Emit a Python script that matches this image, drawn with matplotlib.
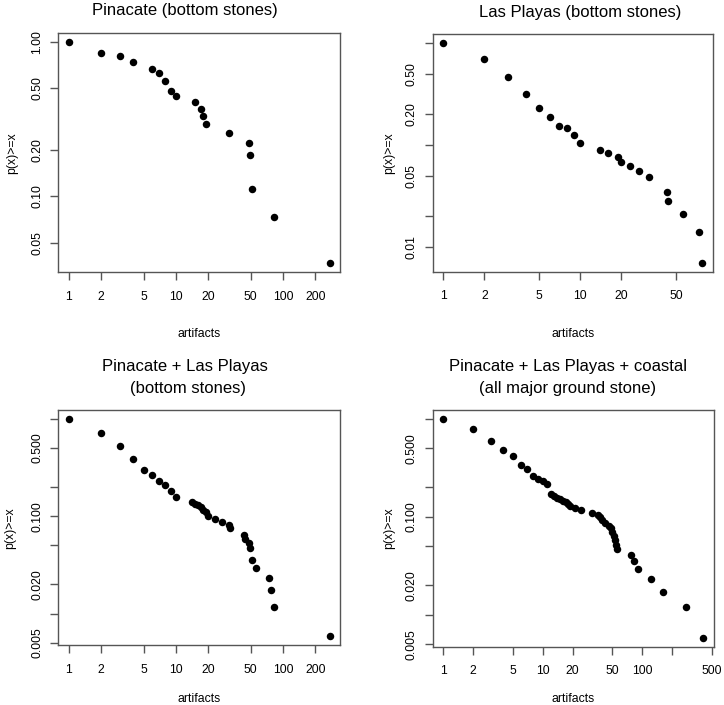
import numpy as np
import matplotlib
matplotlib.use("Agg")
import matplotlib.pyplot as plt

plt.rcParams['font.family'] = ['Liberation Sans', 'DejaVu Sans']

# Pinacate (bottom stones)
pin_x = [1, 2, 3, 4, 6, 7, 8, 9, 10, 15, 17, 18, 19, 31, 48, 49, 51, 83, 272]
pin_y = [1.0, 0.852, 0.815, 0.741, 0.667, 0.630, 0.556, 0.481, 0.444, 0.407,
         0.370, 0.333, 0.296, 0.259, 0.222, 0.185, 0.111, 0.074, 0.037]

# Las Playas (bottom stones)
lp_x = [1, 2, 3, 4, 5, 6, 7, 8, 9, 10, 14, 16, 19, 20, 23, 27, 32, 43, 44, 56, 74, 78]
lp_y = [1.0, 0.694, 0.465, 0.319, 0.229, 0.1875, 0.153, 0.146, 0.125, 0.104,
        0.090, 0.083, 0.076, 0.069, 0.0625, 0.056, 0.049, 0.035, 0.028, 0.021,
        0.014, 0.007]

# Pinacate + Las Playas
both_x = [1, 2, 3, 4, 5, 6, 7, 8, 9, 10, 14, 15, 16, 17, 18, 19, 20, 23, 27,
          31, 32, 43, 44, 48, 49, 51, 56, 74, 78, 83, 272]
both_y = [1.0, 0.719, 0.520, 0.386, 0.298, 0.263, 0.228, 0.211, 0.181, 0.158,
          0.140, 0.1345, 0.129, 0.123, 0.117, 0.111, 0.0994, 0.0936, 0.0877,
          0.0819, 0.076, 0.0643, 0.0585, 0.0526, 0.0468, 0.0351, 0.0292,
          0.0234, 0.0175, 0.0117, 0.00585]

# Pinacate + Las Playas + coastal
all_x = [1, 2, 3, 4, 5, 6, 7, 8, 9, 10, 11, 12, 13, 14, 15, 16, 17, 18, 19, 21,
         24, 31.5, 35.6, 37.4, 39, 42.5, 46.3, 48.5, 50, 51.5, 53.2, 54.5, 56,
         77, 83, 91, 121, 163, 278, 410]
all_y = [1.0, 0.785, 0.587, 0.475, 0.413, 0.334, 0.306, 0.26, 0.244, 0.231,
         0.214, 0.169, 0.163, 0.157, 0.151, 0.145, 0.140, 0.134, 0.128, 0.122,
         0.116, 0.110, 0.105, 0.099, 0.093, 0.087, 0.081, 0.076, 0.070, 0.064,
         0.058, 0.052, 0.047, 0.041, 0.035, 0.029, 0.023, 0.017, 0.012, 0.0058]

xt_a = [1, 2, 5, 10, 20, 50, 100, 200]
xt_b = [1, 2, 5, 10, 20, 50]
xt_c = [1, 2, 5, 10, 20, 50, 100, 200, 500]
xl_c = ['1', '2', '5', '10', '20', '50', '100', '', '500']

yt_a = [1.0, 0.5, 0.2, 0.1, 0.05]
yl_a = ['1.00', '0.50', '0.20', '0.10', '0.05']
yt_b = [1.0, 0.5, 0.2, 0.1, 0.05, 0.02, 0.01]
yl_b = ['', '0.50', '0.20', '', '0.05', '', '0.01']
yt_c = [1.0, 0.5, 0.2, 0.1, 0.05, 0.02, 0.01, 0.005]
yl_c = ['', '0.500', '', '0.100', '', '0.020', '', '0.005']

W, H = 724, 705
fig = plt.figure(figsize=(W / 100, H / 100), dpi=100)
edge = '#555555'


def panel(box, xs, ys, xt, xl, yt, yl):
    l, r, t, b = box
    ax = fig.add_axes([l / W, 1 - b / H, (r - l) / W, (b - t) / H])
    ax.plot(xs, ys, 'o', color='black', ms=5.4, mew=0)
    ax.set_xscale('log')
    ax.set_yscale('log')
    # R style 4% padding in log space
    lx = np.log10([min(xs), max(xs)])
    ly = np.log10([min(ys), max(ys)])
    px = (lx[1] - lx[0]) * 0.04
    py = (ly[1] - ly[0]) * 0.04
    ax.set_xlim(10 ** (lx[0] - px), 10 ** (lx[1] + px))
    ax.set_ylim(10 ** (ly[0] - py), 10 ** (ly[1] + py))
    ax.minorticks_off()
    ax.set_xticks(xt)
    ax.set_xticklabels(xl)
    ax.set_yticks(yt)
    ax.set_yticklabels(yl, rotation=90, va='center')
    ax.tick_params(axis='both', length=6, width=1, color=edge,
                   labelsize=8.8, colors='black')
    ax.tick_params(axis='x', pad=7.5)
    ax.tick_params(axis='y', pad=5)
    ax.tick_params(axis='both', color=edge)
    for s in ax.spines.values():
        s.set_color(edge)
        s.set_linewidth(1)
    return ax


def txt(x, y, s, **kw):
    fig.text(x / W, 1 - y / H, s, ha='center', va='center', **kw)


panel((58.3, 340, 33, 272), pin_x, pin_y, xt_a, [str(v) for v in xt_a], yt_a, yl_a)
panel((432.7, 712.7, 34.3, 271.7), lp_x, lp_y, xt_b, [str(v) for v in xt_b], yt_b, yl_b)
panel((58.3, 340, 410, 645), both_x, both_y, xt_a, [str(v) for v in xt_a], yt_c, yl_c)
panel((432.7, 713.7, 410, 646.7), all_x, all_y, xt_c, xl_c, yt_c, yl_c)

tsize = 12
txt(185, 10, 'Pinacate (bottom stones)', fontsize=tsize)
txt(580, 13, 'Las Playas (bottom stones)', fontsize=tsize)
txt(185, 366, 'Pinacate + Las Playas', fontsize=tsize)
txt(188, 388, '(bottom stones)', fontsize=tsize)
txt(568, 366, 'Pinacate + Las Playas + coastal', fontsize=tsize)
txt(568, 388, '(all major ground stone)', fontsize=tsize)

lsize = 8.8
for xc, yc in [(199, 334), (572.7, 334), (199, 699), (573, 699)]:
    txt(xc, yc, 'artifacts', fontsize=lsize)
for xc, yc in [(12, 153), (389, 153), (10, 528), (389, 528)]:
    txt(xc, yc, 'p(x)>=x', fontsize=lsize, rotation=90)

fig.savefig('out.png', dpi=100)
